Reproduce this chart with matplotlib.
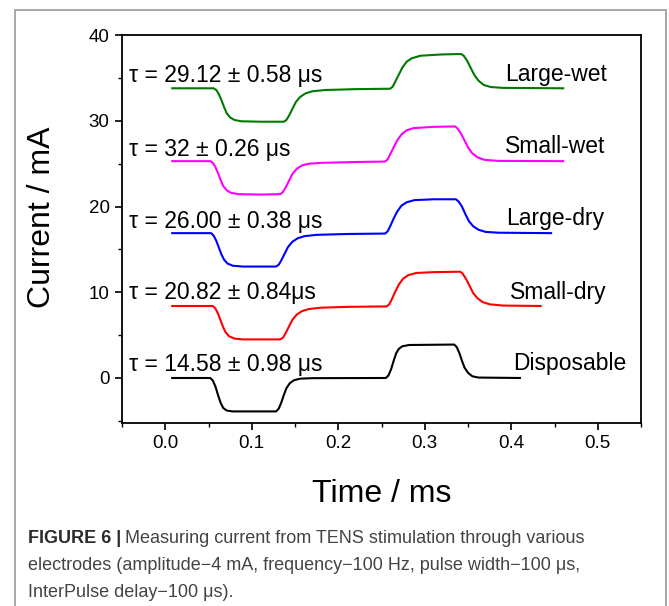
import matplotlib
matplotlib.use("Agg")
import matplotlib.pyplot as plt
from matplotlib.patches import Rectangle
from matplotlib.ticker import MultipleLocator

plt.rcParams['font.family'] = ['Liberation Sans', 'DejaVu Sans']

# traces (time in ms, current in mA, vertically offset)
disp_t = [0.008, 0.052, 0.055, 0.058, 0.061, 0.064, 0.067, 0.071, 0.078, 0.128, 0.131, 0.134, 0.137,
          0.140, 0.144, 0.149, 0.156, 0.17, 0.255, 0.258, 0.261, 0.264, 0.267, 0.270, 0.274, 0.282,
          0.334, 0.337, 0.340, 0.343, 0.346, 0.350, 0.355, 0.362, 0.41]
disp_i = [0, 0, -0.3, -1.0, -2.0, -2.9, -3.5, -3.8, -3.9, -3.9, -3.6, -2.9, -2.0,
          -1.2, -0.6, -0.25, -0.08, -0.02, 0, 0.3, 1.0, 2.0, 2.9, 3.4, 3.7, 3.85,
          3.9, 3.6, 2.9, 2.0, 1.2, 0.6, 0.2, 0.05, 0]

sdry_t = [0.008, 0.055, 0.058, 0.061, 0.064, 0.067, 0.070, 0.074, 0.080, 0.09, 0.133, 0.136, 0.139,
          0.143, 0.147, 0.152, 0.158, 0.166, 0.18, 0.21, 0.256, 0.259, 0.262, 0.266, 0.270, 0.275,
          0.281, 0.29, 0.31, 0.341, 0.344, 0.348, 0.352, 0.356, 0.361, 0.367, 0.375, 0.39, 0.434]
sdry_i = [8.4, 8.4, 8.1, 7.5, 6.7, 5.9, 5.3, 4.85, 4.6, 4.5, 4.5, 4.7, 5.2,
          6.0, 6.8, 7.4, 7.8, 8.05, 8.2, 8.3, 8.35, 8.6, 9.2, 10.1, 10.9, 11.6,
          12.0, 12.25, 12.35, 12.4, 12.15, 11.5, 10.7, 9.9, 9.3, 8.85, 8.6, 8.45, 8.4]

ldry_t = [0.008, 0.053, 0.056, 0.059, 0.062, 0.065, 0.068, 0.072, 0.078, 0.09, 0.128, 0.131, 0.134,
          0.138, 0.142, 0.147, 0.153, 0.161, 0.175, 0.21, 0.254, 0.257, 0.260, 0.264, 0.268, 0.273,
          0.279, 0.288, 0.31, 0.336, 0.339, 0.343, 0.347, 0.351, 0.356, 0.362, 0.370, 0.385, 0.446]
ldry_i = [16.9, 16.9, 16.6, 16.0, 15.2, 14.4, 13.8, 13.35, 13.1, 13.0, 13.0, 13.2, 13.7,
          14.5, 15.3, 15.9, 16.3, 16.55, 16.7, 16.8, 16.85, 17.1, 17.7, 18.6, 19.4, 20.1,
          20.5, 20.75, 20.85, 20.85, 20.6, 20.0, 19.1, 18.3, 17.7, 17.3, 17.05, 16.95, 16.9]

swet_t = [0.008, 0.052, 0.055, 0.058, 0.061, 0.064, 0.067, 0.071, 0.076, 0.085, 0.110, 0.133, 0.136,
          0.139, 0.143, 0.147, 0.152, 0.158, 0.166, 0.18, 0.22, 0.254, 0.257, 0.260, 0.264, 0.268,
          0.273, 0.279, 0.287, 0.31, 0.335, 0.338, 0.342, 0.346, 0.350, 0.355, 0.361, 0.369, 0.385, 0.46]
swet_i = [25.3, 25.3, 25.1, 24.6, 23.9, 23.1, 22.4, 21.9, 21.6, 21.45, 21.4, 21.45, 21.7,
          22.2, 23.0, 23.8, 24.4, 24.8, 25.0, 25.1, 25.2, 25.25, 25.5, 26.1, 26.9, 27.7,
          28.4, 28.9, 29.15, 29.3, 29.35, 29.1, 28.5, 27.7, 26.9, 26.2, 25.75, 25.45, 25.33, 25.3]

lwet_t = [0.008, 0.056, 0.059, 0.062, 0.065, 0.068, 0.071, 0.075, 0.080, 0.088, 0.110, 0.137, 0.140,
          0.143, 0.147, 0.151, 0.156, 0.162, 0.170, 0.185, 0.22, 0.26, 0.263, 0.266, 0.270, 0.274,
          0.279, 0.285, 0.295, 0.320, 0.342, 0.345, 0.349, 0.353, 0.357, 0.362, 0.368, 0.376, 0.39, 0.46]
lwet_i = [33.8, 33.8, 33.6, 33.1, 32.4, 31.6, 30.9, 30.4, 30.1, 29.95, 29.9, 29.9, 30.1,
          30.6, 31.4, 32.2, 32.8, 33.2, 33.45, 33.6, 33.7, 33.75, 34.0, 34.6, 35.4, 36.2,
          36.9, 37.3, 37.6, 37.75, 37.8, 37.6, 37.0, 36.2, 35.4, 34.7, 34.2, 33.95, 33.85, 33.8]

names = ["Disposable", "Small-dry", "Large-dry", "Small-wet", "Large-wet"]
taus = ["τ = 14.58 ± 0.98 μs", "τ = 20.82 ± 0.84μs", "τ = 26.00 ± 0.38 μs",
        "τ = 32 ± 0.26 μs", "τ = 29.12 ± 0.58 μs"]
tau_y = [0.85, 9.2, 17.5, 25.9, 34.55]
name_y = [0.95, 9.25, 17.85, 26.25, 34.6]
name_x = [0.402, 0.398, 0.394, 0.393, 0.393]
colors = ["black", "#ff0000", "#0000ff", "#ff00ff", "#007a00"]

traces = [(disp_t, disp_i), (sdry_t, sdry_i), (ldry_t, ldry_i), (swet_t, swet_i), (lwet_t, lwet_i)]

fig = plt.figure(figsize=(6.69, 6.06), dpi=100)
ax = fig.add_axes([0.1824, 0.302, 0.7758, 0.640])

for (t, i), c in zip(traces, colors):
    ax.plot(t, i, color=c, lw=1.5)

for k in range(5):
    ax.text(-0.042, tau_y[k], taus[k], fontsize=16.5, va="baseline", ha="left")
    ax.text(name_x[k], name_y[k], names[k], fontsize=16.5, va="baseline", ha="left")

ax.set_xlim(-0.05, 0.55)
ax.set_ylim(-5.25, 40)
ax.xaxis.set_major_locator(MultipleLocator(0.1))
ax.xaxis.set_minor_locator(MultipleLocator(0.05))
ax.yaxis.set_major_locator(MultipleLocator(10))
ax.yaxis.set_minor_locator(MultipleLocator(5))
ax.set_xticks([0.0, 0.1, 0.2, 0.3, 0.4, 0.5])
ax.set_xticklabels(["0.0", "0.1", "0.2", "0.3", "0.4", "0.5"])
ax.tick_params(which="major", direction="out", length=5, width=1.2, labelsize=13.5, pad=4,
               top=False, right=False)
ax.tick_params(which="minor", direction="out", length=3, width=1.0, top=False, right=False)
for s in ax.spines.values():
    s.set_linewidth(1.3)

ax.set_xlabel("Time / ms", fontsize=23)
ax.set_ylabel("Current / mA", fontsize=23)
ax.yaxis.set_label_coords(-0.125, 0.53)
ax.xaxis.set_label_coords(0.5, -0.145)

# frame around the whole figure panel
fig.patches.append(Rectangle((15 / 669, -0.02), 651 / 669, 1 - 10 / 606 + 0.02,
                             transform=fig.transFigure, fill=False, ec="#9a9a9a", lw=1.2))

cap_color = "#444444"
bold = fig.text(28 / 669, 1 - 543 / 606, "FIGURE 6 |", fontsize=13, fontweight="bold",
                color="#2a2a2a", va="baseline", ha="left")
fig.canvas.draw()
bb = bold.get_window_extent()
fig.text(bb.x1 / 669 + 0.006, 1 - 543 / 606, "Measuring current from TENS stimulation through various",
         fontsize=13, color=cap_color, va="baseline", ha="left")
fig.text(28 / 669, 1 - 570 / 606,
         "electrodes (amplitude\u22124 mA, frequency\u2212100 Hz, pulse width\u2212100 μs,",
         fontsize=13, color=cap_color, va="baseline", ha="left")
fig.text(28 / 669, 1 - 597 / 606, "InterPulse delay\u2212100 μs).",
         fontsize=13, color=cap_color, va="baseline", ha="left")

fig.savefig("out.png", dpi=100)
